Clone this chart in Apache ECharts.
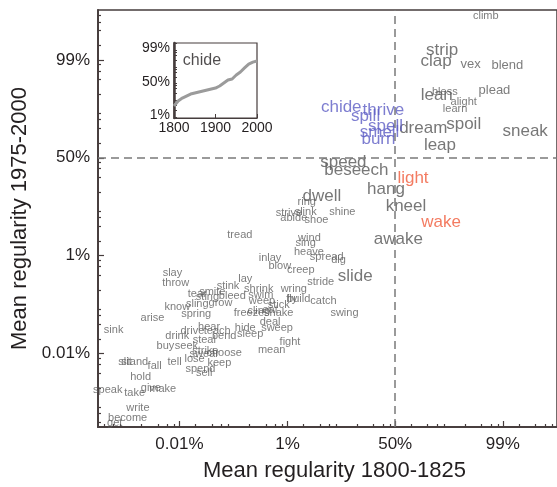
<!DOCTYPE html>
<html>
<head>
<meta charset="utf-8">
<script src="https://cdn.jsdelivr.net/npm/echarts@6/dist/echarts.min.js"></script>
<style>
  html, body { margin: 0; padding: 0; background: #fff; }
  #chart { width: 557px; height: 487px; }
</style>
</head>
<body>
<div id="chart"></div>
<script>
// values are log10 odds of regularity
const tickPercents = [0.01, 1, 50, 99];
const insetTickPercents = [1, 50, 99];

const blueWords = ['chide', 'thrive', 'spill', 'spell', 'smell', 'burn'];
const blueX = [-1.00, -0.22, -0.55, -0.18, -0.29, -0.31];
const blueY = [1.04, 0.98, 0.84, 0.65, 0.53, 0.37];

const redWords = ['light', 'wake'];
const redX = [0.33, 0.85];
const redY = [-0.41, -1.32];

const bigWords = ['strip', 'clap', 'lean', 'dream', 'spoil', 'sneak', 'leap', 'speed', 'beseech',
  'hang', 'dwell', 'kneel', 'awake', 'slide'];
const bigX = [0.87, 0.76, 0.77, 0.52, 1.27, 2.41, 0.83, -0.96, -0.72, -0.17, -1.36, 0.20, 0.06, -0.74];
const bigY = [2.20, 1.98, 1.28, 0.61, 0.69, 0.55, 0.26, -0.10, -0.26, -0.65, -0.79, -1.00, -1.67, -2.42];

const midWords = ['vex', 'blend', 'plead'];
const midX = [1.40, 2.08, 1.84];
const midY = [1.91, 1.89, 1.38];

const smallWords = ['climb', 'bless', 'alight', 'learn', 'ring', 'strive', 'slink', 'abide', 'shoe', 'shine',
  'wind', 'sing', 'heave', 'spread', 'dig', 'tread', 'inlay', 'blow', 'creep', 'stride',
  'slay', 'throw', 'lay', 'stink', 'shrink', 'wring', 'smite', 'tear', 'swim', 'bleed',
  'sting', 'weep', 'fly', 'build', 'catch', 'sling', 'grow', 'know', 'stick', 'cling',
  'eat', 'freeze', 'shake', 'arise', 'spring', 'swing', 'deal', 'sink', 'hear', 'drive',
  'teach', 'bend', 'hide', 'sleep', 'sweep', 'drink', 'steal', 'buy', 'seek', 'strike',
  'fight', 'mean', 'swear', 'choose', 'lose', 'slit', 'stand', 'fall', 'tell', 'keep',
  'spend', 'sell', 'hold', 'speak', 'take', 'give', 'make', 'write', 'become', 'get'];
const smallX = [1.68, 0.92, 1.27, 1.11, -1.64, -1.97, -1.66, -1.88, -1.46, -0.98,
  -1.59, -1.66, -1.60, -1.27, -1.05, -2.88, -2.32, -2.14, -1.75, -1.38,
  -4.13, -4.07, -2.78, -3.10, -2.53, -1.88, -3.39, -3.67, -2.49, -3.02,
  -3.48, -2.47, -1.92, -1.79, -1.33, -3.67, -3.24, -4.04, -2.16, -2.53,
  -2.32, -2.71, -2.16, -4.50, -3.69, -0.94, -2.32, -5.22, -3.45, -3.76,
  -3.30, -3.17, -2.78, -2.69, -2.19, -4.04, -3.54, -4.26, -3.87, -3.52,
  -1.95, -2.29, -3.54, -3.17, -3.72, -5.01, -4.83, -4.46, -4.09, -3.26,
  -3.61, -3.54, -4.72, -5.33, -4.83, -4.53, -4.31, -4.77, -4.96, -5.20];
const smallY = [2.89, 1.34, 1.14, 1.00, -0.90, -1.12, -1.10, -1.22, -1.28, -1.10,
  -1.63, -1.75, -1.93, -2.02, -2.08, -1.57, -2.04, -2.20, -2.30, -2.53,
  -2.36, -2.55, -2.48, -2.61, -2.67, -2.69, -2.75, -2.79, -2.81, -2.83,
  -2.85, -2.93, -2.89, -2.89, -2.93, -2.99, -2.97, -3.05, -3.01, -3.12,
  -3.10, -3.18, -3.18, -3.28, -3.20, -3.18, -3.36, -3.52, -3.46, -3.54,
  -3.54, -3.65, -3.48, -3.60, -3.48, -3.65, -3.73, -3.85, -3.85, -3.95,
  -3.77, -3.93, -4.01, -3.99, -4.11, -4.18, -4.18, -4.26, -4.18, -4.20,
  -4.32, -4.40, -4.48, -4.75, -4.81, -4.70, -4.73, -5.11, -5.32, -5.42];

// inset: "chide" over time
const chideYears = [1800, 1810, 1820, 1830, 1840, 1850, 1860, 1870, 1880, 1890, 1900,
  1910, 1920, 1930, 1940, 1950, 1960, 1970, 1980, 1990, 2000];
const chideLogOdds = [-1.43, -1.13, -0.96, -0.84, -0.72, -0.66, -0.60, -0.54, -0.48, -0.42, -0.36,
  -0.24, -0.06, 0.12, 0.18, 0.42, 0.60, 0.84, 1.07, 1.19, 1.25];

const logOdds = p => Math.log10(p / (100 - p));
const pctLabel = {};
tickPercents.forEach(p => { pctLabel[logOdds(p).toFixed(3)] = p + '%'; });

const X_MIN = -5.51, X_MAX = 3.0, Y_MIN = -5.5, Y_MAX = 3.02;
const IN_MIN = -2.15, IN_MAX = 2.33;
const axisColor = '#463d3d';
const font = 'Liberation Sans, Arial, Helvetica, sans-serif';

function minorTicks(lo, hi) {
  const out = [];
  for (let k = -8; k <= 5; k++) {
    [2, 4, 6, 8].forEach(m => {
      const v = k + Math.log10(m);
      if (v > lo && v < hi) out.push(v);
    });
  }
  return out;
}

function zip(words, xs, ys) {
  return words.map((w, i) => [xs[i], ys[i], w]);
}

function wordSeries(name, data, size, color) {
  return {
    name: name,
    type: 'scatter',
    xAxisIndex: 0,
    yAxisIndex: 0,
    data: data,
    symbolSize: 1,
    itemStyle: { color: 'rgba(0,0,0,0)' },
    label: {
      show: true,
      position: 'inside',
      formatter: p => p.value[2],
      fontSize: size,
      color: color,
      fontFamily: font
    },
    emphasis: { disabled: true },
    silent: true,
    z: 3
  };
}

const majorVals = tickPercents.map(logOdds);

function mainAxis(dim, isMinor) {
  const isX = dim === 'x';
  return {
    type: 'value',
    gridIndex: 0,
    position: isX ? 'bottom' : 'left',
    min: isX ? X_MIN : Y_MIN,
    max: isX ? X_MAX : Y_MAX,
    splitLine: { show: false },
    axisLine: { show: true, onZero: false, lineStyle: { color: axisColor, width: 1.5 } },
    axisTick: {
      show: true,
      inside: true,
      length: isMinor ? 3 : 6,
      lineStyle: { color: axisColor, width: 1.2 },
      customValues: isMinor ? minorTicks(isX ? X_MIN : Y_MIN, isX ? X_MAX : Y_MAX) : majorVals
    },
    axisLabel: isMinor ? { show: false } : {
      show: true,
      customValues: majorVals,
      formatter: v => pctLabel[v.toFixed(3)] || '',
      fontSize: 17,
      color: '#231f20',
      fontFamily: font,
      margin: isX ? 9 : 8
    },
    name: isMinor ? '' : (isX ? 'Mean regularity 1800-1825' : 'Mean regularity 1975-2000'),
    nameLocation: 'middle',
    nameGap: isX ? 33 : 56,
    nameRotate: isX ? 0 : 90,
    nameTextStyle: {
      fontSize: 22, color: '#231f20', fontFamily: font,
      padding: isX ? [0, 0, 0, 14] : 0
    }
  };
}

const insetLabels = {};
insetTickPercents.forEach(p => { insetLabels[logOdds(p).toFixed(3)] = p + '%'; });

const option = {
  animation: false,
  backgroundColor: '#fff',
  grid: [
    { left: 98, top: 10, width: 462, height: 418.5, show: true, borderColor: axisColor, borderWidth: 1.5, backgroundColor: 'transparent' },
    { left: 174, top: 43, width: 83, height: 75, show: true, borderColor: axisColor, borderWidth: 1.2, backgroundColor: '#fff', z: 10 }
  ],
  xAxis: [
    mainAxis('x', false),
    mainAxis('x', true),
    {
      type: 'value', gridIndex: 1, min: 1800, max: 2000, interval: 100,
      splitLine: { show: false },
      axisLine: { show: true, onZero: false, lineStyle: { color: axisColor, width: 1.2 } },
      axisTick: { show: true, inside: true, length: 4, lineStyle: { color: axisColor } },
      axisLabel: { fontSize: 14, color: '#231f20', fontFamily: font, margin: 3, formatter: v => String(v) },
      z: 11
    }
  ],
  yAxis: [
    mainAxis('y', false),
    mainAxis('y', true),
    {
      type: 'value', gridIndex: 1, min: IN_MIN, max: IN_MAX,
      splitLine: { show: false },
      axisLine: { show: true, onZero: false, lineStyle: { color: axisColor, width: 2.5 } },
      axisTick: { show: true, inside: true, length: 3, lineStyle: { color: axisColor },
        customValues: minorTicks(IN_MIN, IN_MAX) },
      axisLabel: {
        customValues: insetTickPercents.map(logOdds),
        formatter: v => insetLabels[v.toFixed(3)] || '',
        fontSize: 14, color: '#231f20', fontFamily: font, margin: 4
      },
      z: 11
    }
  ],
  series: [
    {
      type: 'line',
      xAxisIndex: 0,
      yAxisIndex: 0,
      data: [],
      silent: true,
      markLine: {
        symbol: 'none',
        silent: true,
        label: { show: false },
        lineStyle: { color: '#7a7a7a', type: [8, 5], width: 1.5 },
        data: [{ xAxis: 0 }, { yAxis: 0 }]
      }
    },
    wordSeries('small', zip(smallWords, smallX, smallY), 11, '#5b5b5b'),
    wordSeries('mid', zip(midWords, midX, midY), 13, '#5b5b5b'),
    wordSeries('big', zip(bigWords, bigX, bigY), 17, '#555555'),
    wordSeries('blue', zip(blueWords, blueX, blueY), 17, '#5c5cc4'),
    wordSeries('red', zip(redWords, redX, redY), 17, '#f05a3a'),
    {
      type: 'line',
      xAxisIndex: 2,
      yAxisIndex: 2,
      data: chideYears.map((y, i) => [y, chideLogOdds[i]]),
      showSymbol: false,
      lineStyle: { color: '#9b9b9b', width: 3 },
      silent: true,
      z: 12,
      markLine: {
        symbol: 'none',
        silent: true,
        label: { show: false },
        lineStyle: { color: '#6a6a6a', type: [5, 4], width: 1.2 },
        data: [{ yAxis: 0 }]
      }
    },
    {
      type: 'scatter',
      xAxisIndex: 2,
      yAxisIndex: 2,
      data: [[1820, 1.25, 'chide']],
      symbolSize: 1,
      itemStyle: { color: 'rgba(0,0,0,0)' },
      label: { show: true, position: 'right', distance: 0, formatter: p => p.value[2], fontSize: 16, color: '#231f20', fontFamily: font },
      silent: true,
      z: 12
    }
  ]
};

const chart = echarts.init(document.getElementById('chart'));
chart.setOption(option);
</script>
</body>
</html>
